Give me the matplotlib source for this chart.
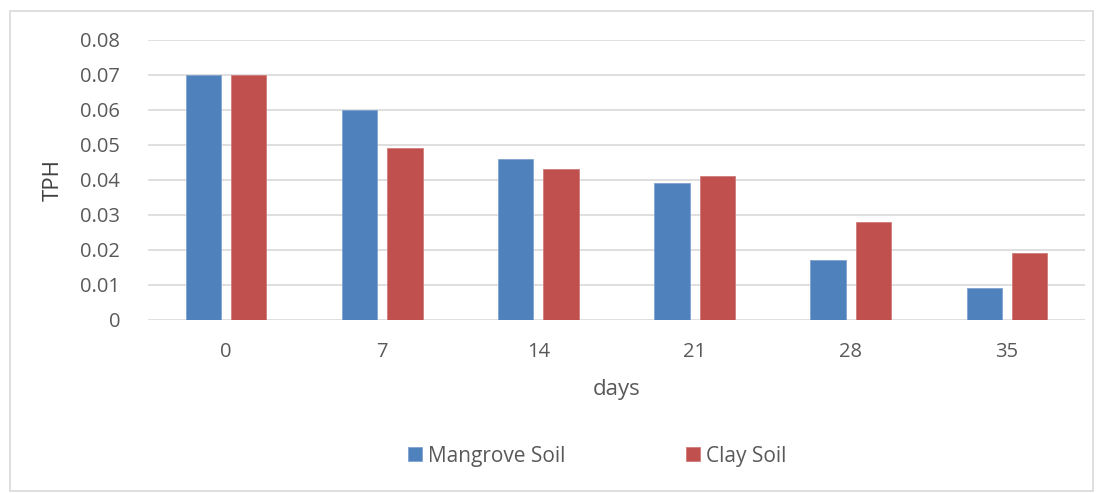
import numpy as np
import matplotlib.pyplot as plt
from matplotlib.patches import Rectangle

days = ['0', '7', '14', '21', '28', '35']
mangrove = [0.070, 0.060, 0.046, 0.039, 0.017, 0.009]
clay = [0.070, 0.049, 0.043, 0.041, 0.028, 0.019]

plt.rcParams['font.family'] = ['Open Sans', 'DejaVu Sans']
txt = '#595959'

fig = plt.figure(figsize=(10.96, 4.93), dpi=100)
ax = fig.add_axes([0.135, 0.351, 0.855, 0.568])

x = np.arange(len(days))
w = 0.226
off = 0.145
ax.bar(x - off, mangrove, w, color='#4F81BD', label='Mangrove Soil', zorder=3,
       edgecolor='#7fa3d0', linewidth=0.6)
ax.bar(x + off, clay, w, color='#C0504D', label='Clay Soil', zorder=3,
       edgecolor='#d07c7a', linewidth=0.6)

ax.set_xlim(-0.5, len(days) - 0.5)
ax.set_ylim(0, 0.08)
ax.set_yticks(np.arange(0, 0.081, 0.01))
ax.set_yticklabels(['0'] + ['%.2f' % v for v in np.arange(0.01, 0.081, 0.01)])
ax.set_xticks(x)
ax.set_xticklabels(days)
ax.yaxis.grid(True, color='#d9d9d9', linewidth=1.2, zorder=0)
for s in ax.spines.values():
    s.set_visible(False)
ax.tick_params(length=0, labelsize=14.5, colors=txt)
ax.tick_params(axis='y', pad=20)
ax.tick_params(axis='x', pad=16)
ax.set_xlabel('days', fontsize=16, color=txt, labelpad=12)
ax.set_ylabel('TPH', fontsize=16, color='#404040', labelpad=12)

fig.legend(loc='center', bbox_to_anchor=(0.545, 0.075), ncol=2, frameon=False,
           fontsize=15, labelcolor=txt, handlelength=0.65, handleheight=0.65,
           handletextpad=0.3, columnspacing=5.8)

fig.patches.append(Rectangle((0.009, 0.004), 0.988, 0.974, transform=fig.transFigure,
                             fill=False, edgecolor='#d9d9d9', linewidth=1.2))

fig.savefig('out.png', dpi=100)
